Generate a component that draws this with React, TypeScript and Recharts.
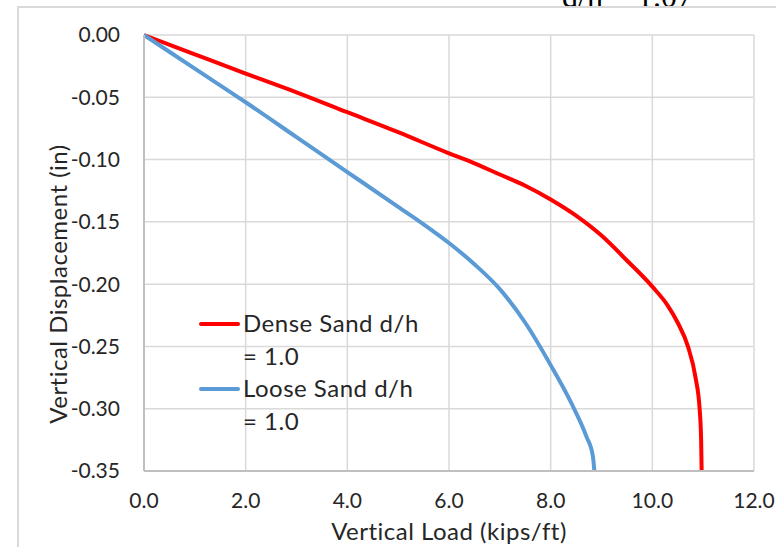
import React from 'react';
import { LineChart, Line, XAxis, YAxis, CartesianGrid, Legend, Label } from 'recharts';

// load (kips/ft) vs displacement (in)
const denseLoad = [0, 1, 2, 3, 4, 5, 6, 6.5, 7, 7.5, 8, 8.5, 9, 9.5, 10, 10.3, 10.5, 10.7, 10.85, 10.93, 10.96, 10.97];
const denseDisp = [0, -0.0155, -0.031, -0.046, -0.062, -0.078, -0.095, -0.103, -0.112, -0.121, -0.132, -0.145, -0.161, -0.181, -0.202, -0.217, -0.231, -0.25, -0.275, -0.3, -0.325, -0.35];

const looseLoad = [0, 1, 2, 3, 4, 5, 5.5, 6, 6.5, 7, 7.5, 8, 8.4, 8.7, 8.83, 8.86];
const looseDisp = [0, -0.027, -0.054, -0.082, -0.11, -0.138, -0.152, -0.167, -0.184, -0.204, -0.231, -0.265, -0.295, -0.322, -0.338, -0.35];

const xTicks = [0, 2, 4, 6, 8, 10, 12];
const yTicks = [0, -0.05, -0.1, -0.15, -0.2, -0.25, -0.3, -0.35];

const denseName = 'Dense Sand d/h = 1.0';
const looseName = 'Loose Sand d/h = 1.0';
const xTitle = 'Vertical Load (kips/ft)';
const yTitle = 'Vertical Displacement (in)';
const topNote = 'd/h = 1.07';

const dense = denseLoad.map((x, i) => ({ x, y: denseDisp[i] }));
const loose = looseLoad.map((x, i) => ({ x, y: looseDisp[i] }));

const FONT = 'Lato, "Noto Sans", sans-serif';
const TEXT = '#262626';

const renderLegend = (props: any) => (
  <div style={{ fontFamily: FONT, fontSize: 24, letterSpacing: 0.5, lineHeight: '32.5px', color: TEXT }}>
    {(props.payload || []).map((e: any) => (
      <div key={e.value} style={{ display: 'flex', alignItems: 'flex-start' }}>
        <div style={{ width: 41, height: 4, background: e.color, marginTop: 15, marginRight: 3, borderRadius: 2 }} />
        <div style={{ width: 180 }}>{e.value}</div>
      </div>
    ))}
  </div>
);

const YTitle = () => (
  <text
    x={57}
    y={284}
    transform="rotate(-90 57 284)"
    textAnchor="middle"
    dominantBaseline="central"
    fontFamily={FONT}
    fontSize={24}
    letterSpacing={0.5}
    fill={TEXT}
  >
    {yTitle}
  </text>
);

export default function App() {
  return (
    <div style={{ position: 'absolute', left: 0, top: 0, width: 776, height: 547, overflow: 'hidden', background: '#fff' }}>
      <div
        style={{
          position: 'absolute', left: 562, top: -20, fontFamily: '"Liberation Serif", serif',
          fontSize: 32, lineHeight: '32px', color: '#000', whiteSpace: 'nowrap',
        }}
      >
        {topNote}
      </div>
      <div
        style={{
          position: 'absolute', left: 17, top: 6, width: 820, height: 620,
          border: '2px solid #d9d9d9', boxSizing: 'border-box', background: '#fff',
        }}
      />
      <div style={{ position: 'absolute', left: 0, top: 0 }}>
        <LineChart width={776} height={547} margin={{ top: 35, right: 22, left: 0, bottom: 0 }}>
          <CartesianGrid stroke="#d9d9d9" strokeWidth={1.5} />
          <XAxis
            type="number"
            dataKey="x"
            domain={[0, 12]}
            ticks={xTicks}
            tickFormatter={(v: number) => v.toFixed(1)}
            height={76}
            tickLine={false}
            tickSize={0}
            tickMargin={22}
            axisLine={{ stroke: '#bfbfbf', strokeWidth: 2 }}
            tick={{ fontFamily: FONT, fontSize: 21, fill: TEXT }}
            allowDuplicatedCategory={false}
          >
            <Label
              value={xTitle}
              position="insideBottom"
              offset={7}
              style={{ fontFamily: FONT, fontSize: 24, letterSpacing: 0.5, fill: TEXT }}
            />
          </XAxis>
          <YAxis
            type="number"
            dataKey="y"
            domain={[-0.35, 0]}
            ticks={yTicks}
            tickFormatter={(v: number) => v.toFixed(2)}
            width={144}
            tickLine={false}
            tickSize={0}
            tickMargin={24}
            axisLine={{ stroke: '#bfbfbf', strokeWidth: 2 }}
            tick={{ fontFamily: FONT, fontSize: 21, fill: TEXT }}
          >
            <Label content={<YTitle />} />
          </YAxis>
          <Legend
            layout="vertical"
            align="center"
            verticalAlign="middle"
            wrapperStyle={{ left: 199, top: 307, width: 240 }}
            content={renderLegend}
          />
          <Line
            data={dense}
            dataKey="y"
            name={denseName}
            type="monotone"
            stroke="#ff0000"
            strokeWidth={4}
            dot={false}
            activeDot={false}
            isAnimationActive={false}
          />
          <Line
            data={loose}
            dataKey="y"
            name={looseName}
            type="monotone"
            stroke="#5b9bd5"
            strokeWidth={4}
            dot={false}
            activeDot={false}
            isAnimationActive={false}
          />
        </LineChart>
      </div>
    </div>
  );
}
